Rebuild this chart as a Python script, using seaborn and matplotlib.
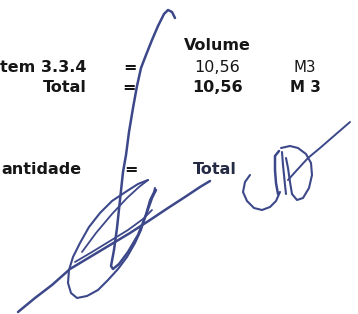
import matplotlib
matplotlib.use("Agg")
import matplotlib.pyplot as plt
import seaborn as sns

# text content of the scanned sheet (left labels are cut by the scan edge)
row_labels = ["tem 3.3.4", "Total", "antidade"]
row_values = ["10,56", "10,56"]
row_units = ["M3", "M 3"]
header = "Volume"
last_total = "Total"

# signature strokes (pixel space, y down)
stroke_long_x = [175, 172, 168, 164, 158, 152, 146, 141, 137, 133, 129, 126, 123, 120, 117, 114, 111, 113, 119, 128, 138, 146, 152, 156]
stroke_long_y = [18, 12, 10, 14, 26, 40, 55, 68, 86, 108, 132, 155, 172, 200, 228, 250, 266, 269, 264, 252, 235, 215, 198, 190]

loop_x = [148, 138, 127, 112, 100, 89, 80, 73, 69, 68, 71, 77, 87, 98, 108, 118, 127, 135, 141, 146, 150, 154, 155]
loop_y = [180, 184, 191, 201, 213, 227, 243, 257, 270, 283, 293, 298, 296, 290, 280, 269, 257, 243, 230, 214, 200, 192, 188]

cross_a_x = [75, 92, 110, 128, 143, 152]
cross_a_y = [262, 252, 241, 230, 219, 210]
cross_b_x = [82, 96, 112, 127, 139, 148]
cross_b_y = [252, 233, 214, 198, 187, 180]

tail_x = [18, 35, 52, 70, 90, 110, 130, 150, 168, 185, 200, 210]
tail_y = [312, 298, 285, 269, 257, 245, 233, 220, 208, 197, 187, 181]

# right initials
diag_x = [350, 335, 320, 308, 297, 288]
diag_y = [122, 135, 148, 158, 170, 180]
oval_x = [281, 290, 298, 306, 311, 312, 309, 303, 297, 292, 290, 288, 286]
oval_y = [148, 146, 148, 154, 163, 175, 188, 198, 200, 194, 182, 168, 158]
stem1_x = [279, 275, 275, 276, 278]
stem1_y = [151, 156, 170, 183, 194]
stem2_x = [282, 283, 284, 285, 286]
stem2_y = [152, 165, 175, 185, 194]
hook_x = [280, 276, 270, 262, 254, 247, 243, 245, 250]
hook_y = [192, 201, 207, 210, 208, 201, 192, 182, 175]

ink = "#3c4889"

sns.set_theme(style="white")
plt.rcParams["font.family"] = ["DejaVu Sans"]

fig = plt.figure(figsize=(3.58, 3.14), dpi=100)
ax = fig.add_axes([0, 0, 1, 1])

strokes = [
    (stroke_long_x, stroke_long_y, 1.8),
    (loop_x, loop_y, 1.5),
    (cross_a_x, cross_a_y, 1.3),
    (cross_b_x, cross_b_y, 1.3),
    (tail_x, tail_y, 1.8),
    (diag_x, diag_y, 1.4),
    (oval_x, oval_y, 1.5),
    (stem1_x, stem1_y, 1.8),
    (stem2_x, stem2_y, 1.5),
    (hook_x, hook_y, 1.5),
]
for sx, sy, lw in strokes:
    sns.lineplot(x=sx, y=sy, sort=False, estimator=None, color=ink, lw=lw, ax=ax)

fs = 11.5
dark = "#161616"

ax.text(217, 45, header, ha="center", va="center", fontsize=fs, fontweight="bold", color=dark)

ax.text(87, 67, row_labels[0], ha="right", va="center", fontsize=fs, fontweight="bold", color=dark)
ax.text(130, 67, "=", ha="center", va="center", fontsize=fs, fontweight="bold", color=dark)
ax.text(217, 67, row_values[0], ha="center", va="center", fontsize=fs, color=dark)
ax.text(305, 67, row_units[0], ha="center", va="center", fontsize=fs - 0.7, color=dark)

ax.text(87, 87, row_labels[1], ha="right", va="center", fontsize=fs, fontweight="bold", color=dark)
ax.text(129, 87, "=", ha="center", va="center", fontsize=fs, fontweight="bold", color=dark)
ax.text(217, 87, row_values[1], ha="center", va="center", fontsize=fs, fontweight="bold", color=dark)
ax.text(305, 87, row_units[1], ha="center", va="center", fontsize=fs - 0.7, fontweight="bold", color=dark)

ax.text(82, 170, row_labels[2], ha="right", va="center", fontsize=fs, fontweight="bold", color=dark)
ax.text(131, 170, "=", ha="center", va="center", fontsize=fs, fontweight="bold", color=dark)
ax.text(193, 170, last_total, ha="left", va="center", fontsize=fs, fontweight="bold", color="#252a45")

ax.set_xlim(0, 358)
ax.set_ylim(314, 0)
ax.axis("off")

fig.savefig("out.png", dpi=100, facecolor="white")
